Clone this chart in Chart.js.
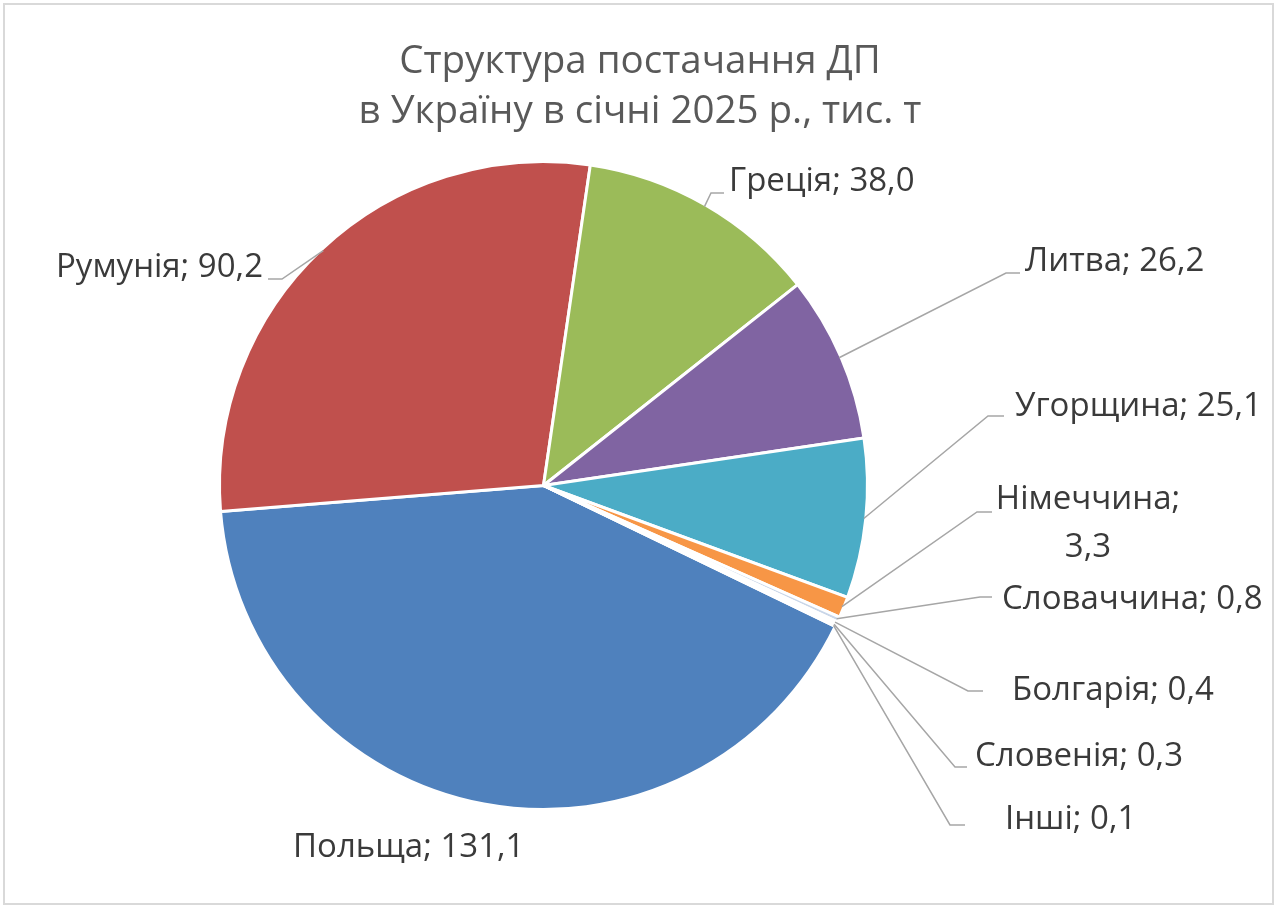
<!DOCTYPE html>
<html lang="uk">
<head>
<meta charset="utf-8">
<title>Структура постачання ДП</title>
<script src="https://cdn.jsdelivr.net/npm/chart.js@4/dist/chart.umd.min.js"></script>
<style>
  html, body { margin: 0; padding: 0; background: #fff; }
  #wrap { position: relative; width: 1280px; height: 910px; }
  #frame {
    position: absolute; left: 3px; top: 3px; width: 1267px; height: 898px;
    border: 2px solid #d9d9d9; pointer-events: none;
  }
</style>
</head>
<body>
<div id="wrap">
  <canvas id="pie-chart"></canvas>
  <div id="frame"></div>
</div>
<script>
// Supply of diesel fuel to Ukraine, January 2025, thousand tonnes
const TITLE_LINES = ['Структура постачання ДП', 'в Україну в січні 2025 р., тис. т'];

const COUNTRIES = [
    'Польща', 'Румунія', 'Греція', 'Литва', 'Угорщина',
    'Німеччина', 'Словаччина', 'Болгарія', 'Словенія', 'Інші'
];
const VOLUMES = [131.1, 90.2, 38.0, 26.2, 25.1, 3.3, 0.8, 0.4, 0.3, 0.1];

const SLICE_COLORS = [
    '#4F81BD', '#C0504D', '#9BBB59', '#8064A2', '#4BACC6',
    '#F79646', '#C9D6E8', '#E8C9C8', '#D9E4C5', '#D3CBDF'
];

// Where Excel put each data label (text anchor + leader elbow), canvas px
const LABEL_LAYOUT = [
    { x: 293, y: 848, align: 'left' },
    { x: 263, y: 268, align: 'right', elbow: [282, 279], end: [268, 279] },
    { x: 729, y: 182, align: 'left', elbow: [711, 193], end: [724, 193] },
    { x: 1025, y: 262, align: 'left', elbow: [1006, 273], end: [1020, 273] },
    { x: 1015, y: 407, align: 'left', elbow: [988, 416], end: [1004, 416] },
    { x: 1088, y: 500, align: 'center', wrap: true, elbow: [977, 512], end: [992, 512] },
    { x: 1002, y: 600, align: 'left', elbow: [980, 597], end: [992, 597] },
    { x: 1012, y: 691, align: 'left', elbow: [968, 691], end: [983, 691] },
    { x: 975, y: 757, align: 'left', elbow: [955, 767], end: [967, 767] },
    { x: 1005, y: 820, align: 'left', elbow: [950, 825], end: [965, 825] }
];

const FONT = '"Open Sans", "Noto Sans", sans-serif';

function fmt(v) {
    return v.toFixed(1).replace('.', ',');
}

const pieLabels = {
    id: 'pieLabels',
    afterDatasetsDraw(chart) {
        const ctx = chart.ctx;
        const meta = chart.getDatasetMeta(0);

        // title
        ctx.save();
        ctx.fillStyle = '#595959';
        ctx.font = '38.5px ' + FONT;
        ctx.textAlign = 'center';
        ctx.textBaseline = 'middle';
        TITLE_LINES.forEach(function(line, i) {
            ctx.fillText(line, 640, 62 + i * 50);
        });
        ctx.restore();

        meta.data.forEach(function(arc, i) {
            const lay = LABEL_LAYOUT[i];
            const p = arc.getProps(['x', 'y', 'startAngle', 'endAngle', 'outerRadius'], true);
            const mid = (p.startAngle + p.endAngle) / 2;

            if (lay.elbow) {
                ctx.save();
                ctx.strokeStyle = '#a6a6a6';
                ctx.lineWidth = 1.5;
                ctx.beginPath();
                ctx.moveTo(p.x + Math.cos(mid) * (p.outerRadius - 2), p.y + Math.sin(mid) * (p.outerRadius - 2));
                ctx.lineTo(lay.elbow[0], lay.elbow[1]);
                ctx.lineTo(lay.end[0], lay.end[1]);
                ctx.stroke();
                ctx.restore();
            }

            ctx.save();
            ctx.fillStyle = '#3a3a3a';
            ctx.font = '33px ' + FONT;
            ctx.textAlign = lay.align;
            ctx.textBaseline = 'middle';
            if (lay.wrap) {
                ctx.fillText(COUNTRIES[i] + ';', lay.x, lay.y);
                ctx.fillText(fmt(VOLUMES[i]), lay.x, lay.y + 48);
            } else {
                ctx.fillText(COUNTRIES[i] + '; ' + fmt(VOLUMES[i]), lay.x, lay.y);
            }
            ctx.restore();
        });
    }
};

new Chart(document.getElementById('pie-chart'), {
    type: 'pie',
    data: {
        labels: COUNTRIES,
        datasets: [{
            data: VOLUMES,
            backgroundColor: SLICE_COLORS,
            borderColor: '#ffffff',
            borderWidth: 3
        }]
    },
    options: {
        responsive: true,
        maintainAspectRatio: false,
        animation: false,
        rotation: 115.8,
        layout: { padding: { left: 218, top: 160, right: 411, bottom: 99 } },
        plugins: {
            legend: { display: false },
            tooltip: { enabled: false },
            title: { display: false }
        }
    },
    plugins: [pieLabels]
});
</script>
</body>
</html>
